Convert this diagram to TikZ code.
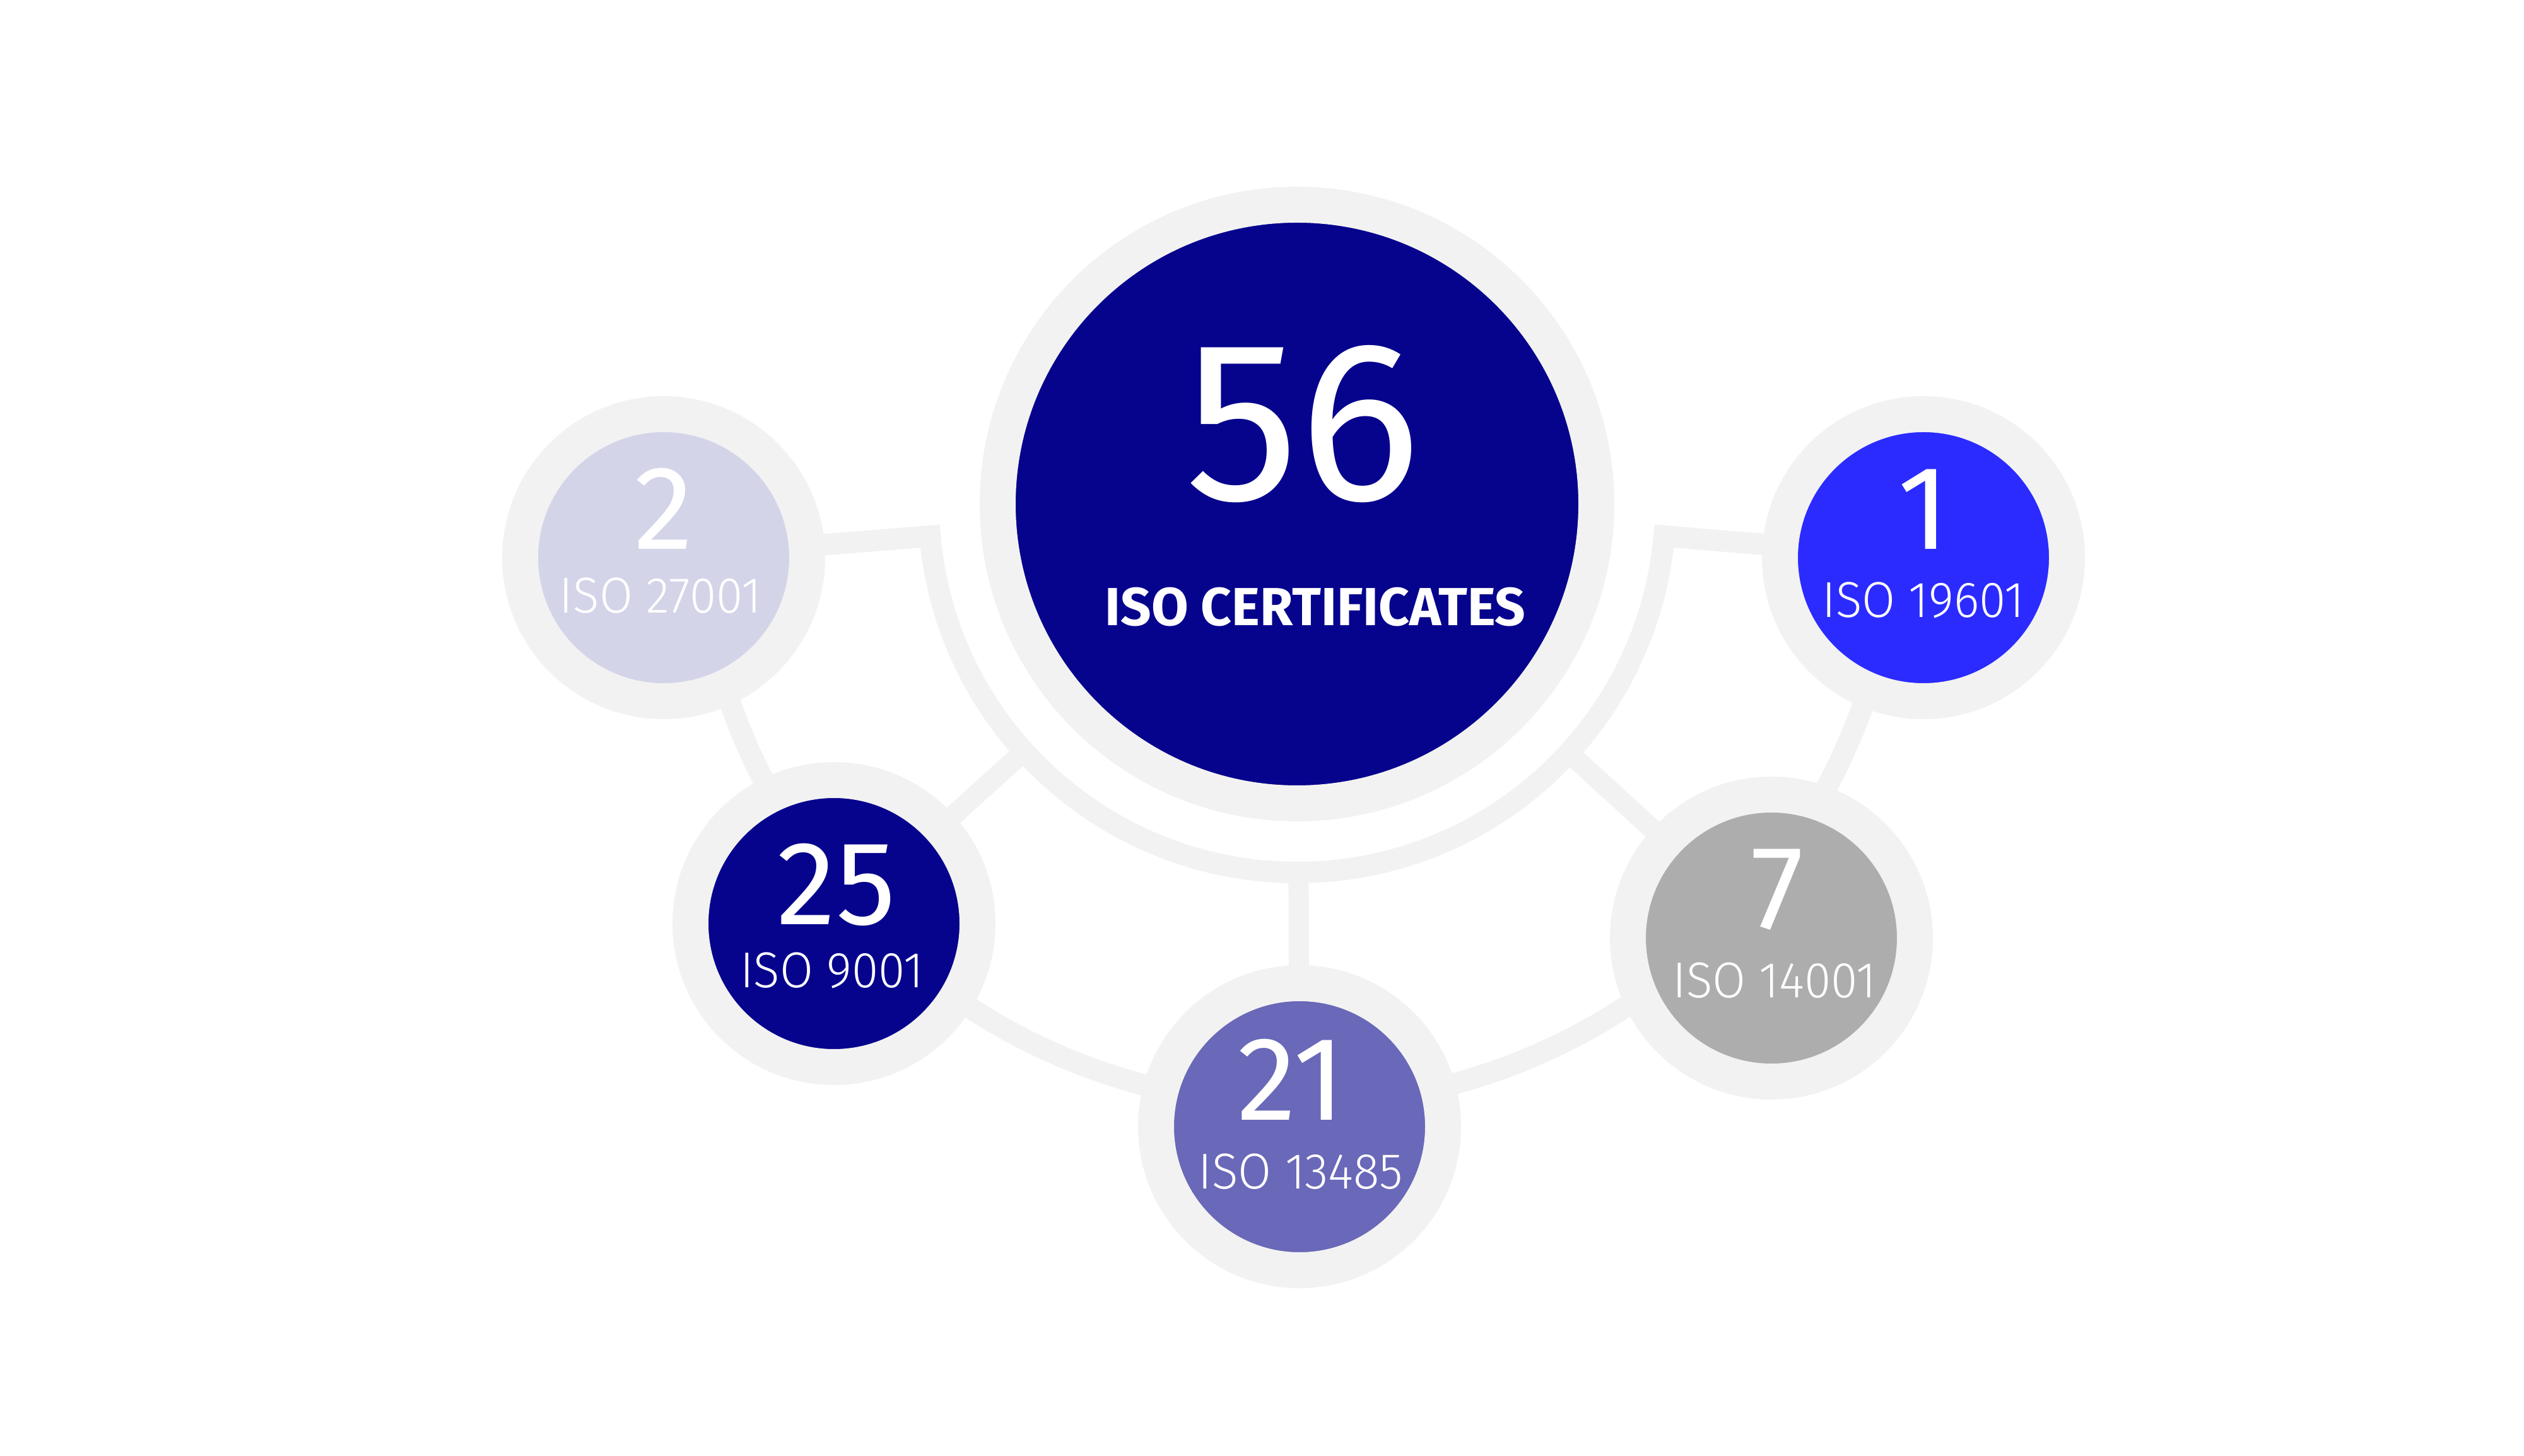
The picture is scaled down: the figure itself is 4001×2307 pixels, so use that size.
\documentclass[tikz,border=0pt]{standalone}
\usepackage{fontspec}
\setmainfont{Fira Sans}
\newfontfamily\lightfont{Fira Sans Light}[FakeStretch=0.96]
\usetikzlibrary{calc}
\definecolor{ring}{HTML}{F2F2F2}
\definecolor{navy}{HTML}{06038D}
\definecolor{lav}{HTML}{D4D4E9}
\definecolor{brightblue}{HTML}{2B2BFF}
\definecolor{purp}{HTML}{6A68B8}
\definecolor{greyc}{HTML}{ADADAD}
\pgfdeclarelayer{bg}
\pgfsetlayers{bg,main}
\begin{document}
\begin{tikzpicture}[x=1pt,y=1pt,
  bigdisc/.style={circle, draw=ring, line width=57pt, minimum size=949pt, inner sep=0pt, fill=navy},
  disc/.style={circle, draw=ring, line width=57pt, minimum size=455pt, inner sep=0pt},
  conn/.style={draw=ring, line width=32pt},
  arcline/.style={draw=ring, line width=34pt, line join=miter},
  num/.style={text=white, inner sep=0pt, anchor=base, font=\fontsize{189}{189}\selectfont},
  bignum/.style={text=white, inner sep=0pt, anchor=base, font=\fontsize{361}{361}\selectfont},
  lab/.style={text=white, inner sep=0pt, anchor=base, font=\lightfont\fontsize{80}{80}\selectfont},
  title/.style={text=white, inner sep=0pt, anchor=base, font=\bfseries\fontsize{85}{85}\selectfont},
]
\useasboundingbox (0,0) rectangle (4001,2307);

% circles
\node[bigdisc] (m) at (2056,1508) {};
\node[disc, fill=lav] (c2) at (1052,1423) {};
\node[disc, fill=brightblue] (c1) at (3049,1423) {};
\node[disc, fill=navy] (c25) at (1322,843) {};
\node[disc, fill=purp] (c21) at (2060,521) {};
\node[disc, fill=greyc] (c7) at (2808,820) {};

% texts
\node[bignum] (t56) at (2065,1514) {56};
\node[title] (tcert) at (2085,1315) {ISO CERTIFICATES};
\node[num] (t2) at (1052,1436) {2};
\node[lab] (l2) at (1047,1335) {ISO 27001};
\node[num] (t1) at (3049,1436) {1};
\node[lab] (l1) at (3049,1328) {ISO 19601};
\node[num] (t25) at (1326,841) {25};
\node[lab] (l25) at (1319,741) {ISO 9001};
\node[num] (t21) at (2047,531) {21};
\node[lab] (l21) at (2062,422) {ISO 13485};
\node[num] (t7) at (2817,834) {7};
\node[lab] (l7) at (2813,725) {ISO 14001};

% background and connectors
\begin{pgfonlayer}{bg}
\fill[white] (0,0) rectangle (4001,2307);
\coordinate (o1) at ($(m.center)+(185:952)$);
\draw[arcline] (o1) arc[start angle=185, end angle=355, radius=952];
\coordinate (i1) at ($(m.center)+(185:584)$);
\draw[arcline] (c2.center) -- (i1) arc[start angle=185, end angle=355, radius=584] -- (c1.center);
\coordinate (a25) at ($(m.center)!584pt!(c25.center)$);
\coordinate (a21) at ($(m.center)!584pt!(c21.center)$);
\coordinate (a7) at ($(m.center)!584pt!(c7.center)$);
\draw[conn] (a25) -- (c25.center);
\draw[conn] (a21) -- (c21.center);
\draw[conn] (a7) -- (c7.center);
\end{pgfonlayer}
\end{tikzpicture}
\end{document}
